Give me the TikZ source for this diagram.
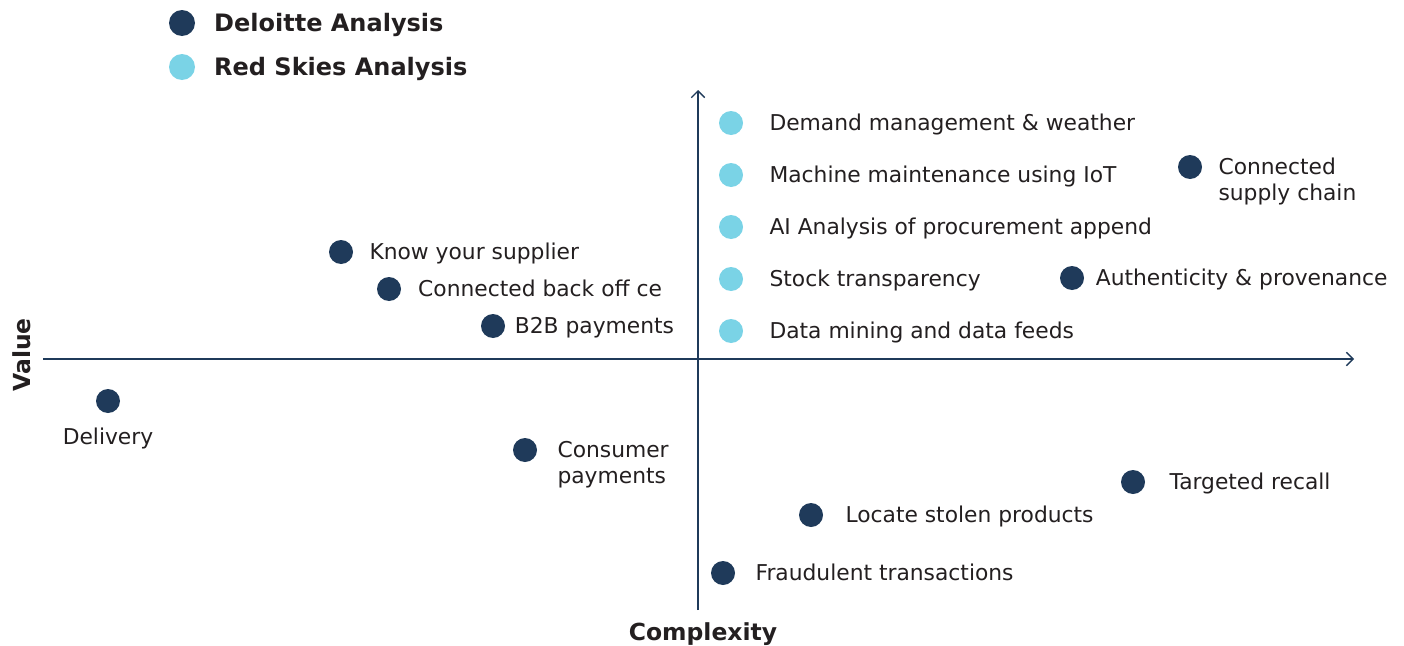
\documentclass[tikz,border=0pt]{standalone}
\usepackage{fontspec}
\setmainfont{DejaVu Sans}
\usetikzlibrary{positioning, arrows.meta}

\definecolor{navy}{HTML}{1F3A5A}
\definecolor{skyblue}{HTML}{7AD3E6}
\definecolor{ink}{HTML}{231F20}

\begin{document}
\begin{tikzpicture}[x=0.75pt, y=-0.75pt,
        deloitte/.style={circle, fill=navy, minimum size=18pt, inner sep=0pt},
        redskies/.style={circle, fill=skyblue, minimum size=18pt, inner sep=0pt},
        itemtext/.style={inner sep=0pt, text=ink, align=left, yshift=-1.8pt, execute at begin node=\strut, font=\fontsize{16.35}{19.5}\selectfont},
        legendtext/.style={inner sep=0pt, text=ink, yshift=-1.5pt, font=\fontsize{18}{22}\selectfont\bfseries},
        axistext/.style={inner sep=0pt, text=ink, font=\fontsize{17.6}{21}\selectfont\bfseries},
        axis/.style={navy, line width=1pt, -{Straight Barb[length=5pt, width=10pt]}}]

        \useasboundingbox (0,0) rectangle (1404,646);

        % Legend
        \node (legD) [deloitte, minimum size=19.5pt] at (182,23) {};
        \node (legDt) [legendtext, right=14pt of legD] {Deloitte Analysis};
        \node (legR) [redskies, minimum size=19.5pt] at (182,67) {};
        \node (legRt) [legendtext, right=14pt of legR] {Red Skies Analysis};

        % Axes
        \coordinate (xstart) at (43,359);
        \coordinate (xend) at (1354,359);
        \coordinate (ystart) at (698,610);
        \coordinate (yend) at (698,90);
        \draw[axis] (xstart) -- (xend);
        \draw[axis] (ystart) -- (yend);
        \node (value) [axistext, rotate=90] at (22,355) {Value};
        \node (complexity) [axistext] at (703,634) {Complexity};

        % Red Skies items
        \node (dmw) [redskies] at (731,123) {};
        \node (dmwt) [itemtext, right=19.5pt of dmw] {Demand management \& weather};
        \node (mmi) [redskies] at (731,175) {};
        \node (mmit) [itemtext, right=19.5pt of mmi] {Machine maintenance using IoT};
        \node (aip) [redskies] at (731,227) {};
        \node (aipt) [itemtext, right=19.5pt of aip] {AI Analysis of procurement append};
        \node (stk) [redskies] at (731,279) {};
        \node (stkt) [itemtext, right=19.5pt of stk] {Stock transparency};
        \node (dmf) [redskies] at (731,331) {};
        \node (dmft) [itemtext, right=19.5pt of dmf] {Data mining and data feeds};

        % Deloitte items
        \node (csc) [deloitte] at (1190,167) {};
        \node (csct) [itemtext, right=12pt of csc, yshift=-10.5pt] {Connected\\supply chain};
        \node (aut) [deloitte] at (1072,278) {};
        \node (autt) [itemtext, right=8.5pt of aut] {Authenticity \& provenance};
        \node (kys) [deloitte] at (341,252) {};
        \node (kyst) [itemtext, right=12pt of kys] {Know your supplier};
        \node (cbo) [deloitte] at (389,289) {};
        \node (cbot) [itemtext, right=12.5pt of cbo] {Connected back off ce};
        \node (b2b) [deloitte] at (493,326) {};
        \node (b2bt) [itemtext, right=7pt of b2b] {B2B payments};
        \node (dlv) [deloitte] at (108,401) {};
        \node (dlvt) [itemtext, below=8pt of dlv] {Delivery};
        \node (cpm) [deloitte] at (525,450) {};
        \node (cpmt) [itemtext, right=15pt of cpm, yshift=-10.5pt] {Consumer\\payments};
        \node (tgr) [deloitte] at (1133,482) {};
        \node (tgrt) [itemtext, right=18pt of tgr] {Targeted recall};
        \node (lsp) [deloitte] at (811,515) {};
        \node (lspt) [itemtext, right=16.5pt of lsp] {Locate stolen products};
        \node (frt) [deloitte] at (723,573) {};
        \node (frtt) [itemtext, right=15pt of frt] {Fraudulent transactions};

\end{tikzpicture}
\end{document}
